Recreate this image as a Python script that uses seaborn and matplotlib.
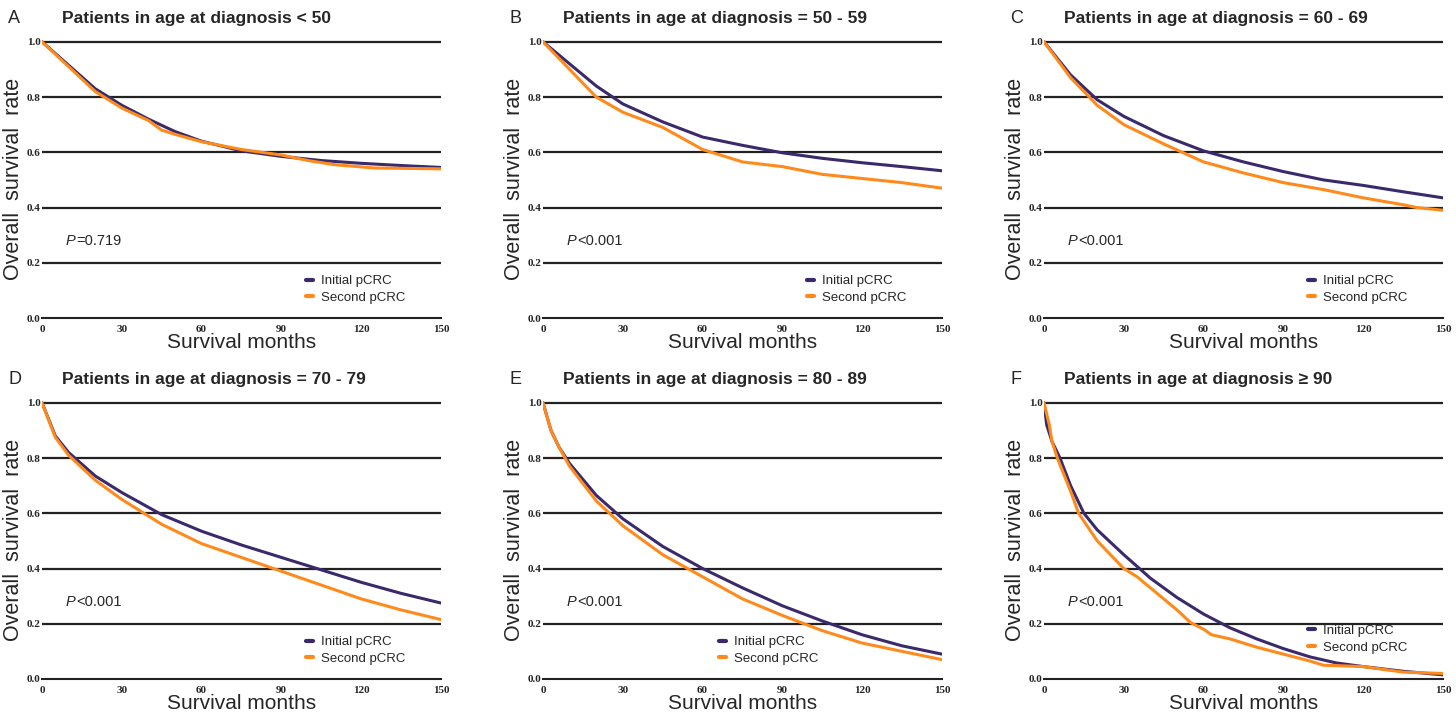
import numpy as np
import pandas as pd
import matplotlib
matplotlib.use("Agg")
import matplotlib.pyplot as plt
import seaborn as sns

# survival estimates (months, rate)
a_init_t = [0, 10, 20, 30, 40, 50, 60, 75, 90, 105, 120, 135, 150]
a_init_s = [1.0, 0.915, 0.83, 0.77, 0.72, 0.675, 0.64, 0.605, 0.585, 0.57, 0.56, 0.552, 0.545]
a_sec_t = [0, 10, 20, 30, 40, 45, 50, 60, 75, 90, 100, 110, 125, 150]
a_sec_s = [1.0, 0.91, 0.82, 0.76, 0.715, 0.68, 0.665, 0.638, 0.61, 0.59, 0.57, 0.555, 0.543, 0.54]

b_init_t = [0, 10, 20, 30, 45, 60, 75, 90, 105, 120, 135, 150]
b_init_s = [1.0, 0.92, 0.84, 0.775, 0.71, 0.655, 0.625, 0.598, 0.578, 0.562, 0.548, 0.533]
b_sec_t = [0, 10, 20, 30, 45, 60, 75, 90, 105, 120, 135, 150]
b_sec_s = [1.0, 0.9, 0.8, 0.745, 0.69, 0.61, 0.565, 0.548, 0.52, 0.505, 0.49, 0.47]

c_init_t = [0, 10, 20, 30, 45, 60, 75, 90, 105, 120, 135, 150]
c_init_s = [1.0, 0.88, 0.79, 0.73, 0.66, 0.605, 0.565, 0.53, 0.5, 0.48, 0.457, 0.435]
c_sec_t = [0, 10, 20, 30, 45, 60, 75, 90, 105, 120, 135, 140, 150]
c_sec_s = [1.0, 0.87, 0.77, 0.7, 0.63, 0.565, 0.525, 0.49, 0.465, 0.435, 0.41, 0.4, 0.39]

d_init_t = [0, 5, 10, 20, 30, 45, 60, 75, 90, 105, 120, 135, 150]
d_init_s = [1.0, 0.88, 0.82, 0.735, 0.675, 0.595, 0.535, 0.485, 0.44, 0.395, 0.35, 0.31, 0.275]
d_sec_t = [0, 5, 10, 20, 30, 45, 60, 75, 90, 105, 120, 135, 150]
d_sec_s = [1.0, 0.875, 0.81, 0.72, 0.65, 0.56, 0.49, 0.44, 0.39, 0.34, 0.29, 0.25, 0.215]

e_init_t = [0, 3, 6, 10, 20, 30, 45, 60, 75, 90, 105, 120, 135, 150]
e_init_s = [1.0, 0.9, 0.84, 0.78, 0.665, 0.58, 0.48, 0.4, 0.33, 0.265, 0.21, 0.16, 0.12, 0.09]
e_sec_t = [0, 3, 6, 10, 20, 30, 45, 60, 75, 90, 105, 120, 135, 150]
e_sec_s = [1.0, 0.9, 0.84, 0.77, 0.645, 0.555, 0.45, 0.37, 0.29, 0.23, 0.175, 0.13, 0.1, 0.07]

f_init_t = [0, 1, 3, 6, 10, 15, 20, 30, 40, 50, 60, 70, 80, 90, 100, 110, 120, 135, 150]
f_init_s = [1.0, 0.92, 0.86, 0.8, 0.7, 0.6, 0.54, 0.45, 0.365, 0.295, 0.235, 0.185, 0.145, 0.11, 0.08, 0.058, 0.045, 0.028, 0.015]
f_sec_t = [0, 2, 3, 5, 10, 13, 20, 25, 30, 35, 40, 50, 55, 60, 63, 70, 80, 90, 100, 105, 120, 135, 150]
f_sec_s = [1.0, 0.92, 0.86, 0.8, 0.68, 0.6, 0.5, 0.45, 0.4, 0.37, 0.33, 0.25, 0.205, 0.18, 0.16, 0.145, 0.115, 0.09, 0.065, 0.05, 0.045, 0.025, 0.02]

letters = ["A", "B", "C", "D", "E", "F"]
titles = ["Patients in age at diagnosis < 50",
          "Patients in age at diagnosis = 50 - 59",
          "Patients in age at diagnosis = 60 - 69",
          "Patients in age at diagnosis = 70 - 79",
          "Patients in age at diagnosis = 80 - 89",
          "Patients in age at diagnosis \u2265 90"]
p_texts = ["=0.719", "<0.001", "<0.001", "<0.001", "<0.001", "<0.001"]
groups = ["Initial pCRC", "Second pCRC"]

curves = [(a_init_t, a_init_s, a_sec_t, a_sec_s),
          (b_init_t, b_init_s, b_sec_t, b_sec_s),
          (c_init_t, c_init_s, c_sec_t, c_sec_s),
          (d_init_t, d_init_s, d_sec_t, d_sec_s),
          (e_init_t, e_init_s, e_sec_t, e_sec_s),
          (f_init_t, f_init_s, f_sec_t, f_sec_s)]

rows = []
for k, (t1, s1, t2, s2) in enumerate(curves):
    for t, s in zip(t1, s1):
        rows.append((letters[k], groups[0], t, s))
    for t, s in zip(t2, s2):
        rows.append((letters[k], groups[1], t, s))
df = pd.DataFrame(rows, columns=["panel", "group", "month", "rate"])

sns.set_style("white")
plt.rcParams['font.family'] = ['Liberation Sans', 'DejaVu Sans']
palette = {"Initial pCRC": "#3a2a6b", "Second pCRC": "#ff8a1c"}

fig = plt.figure(figsize=(14.56, 7.18), dpi=100)
lefts = [42, 543, 1044]
tops = [39, 400]
W, H = 399, 279
# legend anchor (axes fraction) per panel
leg_pos = [(0.91, 0.05), (0.91, 0.05), (0.91, 0.05),
           (0.91, 0.05), (0.69, 0.05), (0.91, 0.09)]

for k, letter in enumerate(letters):
    r, c = divmod(k, 3)
    ax = fig.add_axes([lefts[c] / 1456, 1 - (tops[r] + H) / 718, W / 1456, H / 718])
    sub = df[df.panel == letter]
    for y in [0.2, 0.4, 0.6, 0.8, 1.0]:
        ax.axhline(y, color="#222222", lw=1.6, zorder=1)
    sns.lineplot(data=sub, x="month", y="rate", hue="group", palette=palette,
                 lw=2.2, ax=ax, zorder=3, estimator=None, sort=False)
    ax.set_xlim(0, 150)
    ax.set_ylim(0, 1.01)
    ax.set_xticks([0, 30, 60, 90, 120, 150])
    ax.set_yticks([0.0, 0.2, 0.4, 0.6, 0.8, 1.0])
    ax.set_yticklabels(["0.0", "0.2", "0.4", "0.6", "0.8", "1.0"])
    for lab in ax.get_xticklabels() + ax.get_yticklabels():
        lab.set_fontfamily("Liberation Serif")
        lab.set_fontweight("bold")
        lab.set_fontsize(8)
    ax.tick_params(axis="x", direction="out", length=4, width=1.2, pad=1)
    ax.tick_params(axis="y", length=0, pad=1)
    for side in ["top", "right", "left"]:
        ax.spines[side].set_visible(False)
    ax.spines["bottom"].set_linewidth(1.5)
    ax.spines["bottom"].set_color("#222222")
    ax.set_xlabel("Survival months", fontsize=15, labelpad=-1)
    ax.set_ylabel("Overall  survival  rate", fontsize=15.5, labelpad=2)
    ax.text(9, 0.28, "P", style="italic", fontsize=10.5, va="center")
    ax.text(12.8, 0.28, p_texts[k], fontsize=10.5, va="center")
    ax.text(-0.085, 1.075, letter, transform=ax.transAxes, fontsize=13, va="center")
    ax.text(0.05, 1.075, titles[k], transform=ax.transAxes, fontsize=12.5,
            fontweight="bold", va="center")
    leg = ax.legend(loc="lower right", bbox_to_anchor=leg_pos[k], frameon=False,
                    fontsize=9.5, handlelength=0.5, handletextpad=0.6,
                    labelspacing=0.35, borderaxespad=0, borderpad=0)
    for h in leg.get_lines():
        h.set_linewidth(3)

fig.savefig("out.png", dpi=100)
